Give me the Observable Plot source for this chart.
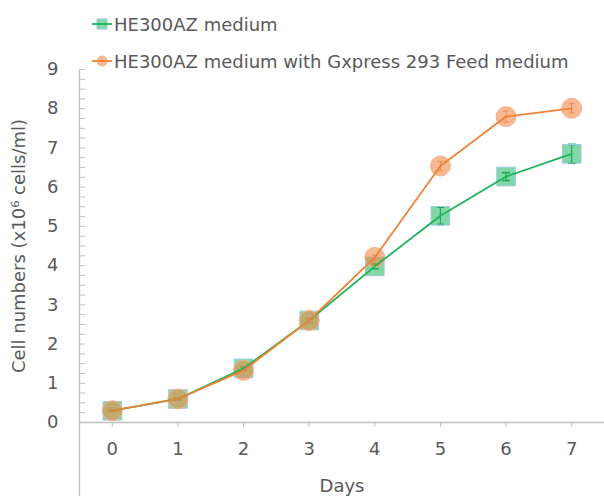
<!DOCTYPE html>
<html>
<head>
<meta charset="utf-8">
<script src="https://cdn.jsdelivr.net/npm/d3@7"></script>
<script src="https://cdn.jsdelivr.net/npm/@observablehq/plot@0.6"></script>
<style>
  body { margin: 0; background: #fff; font-family: "DejaVu Sans", sans-serif; }
  #wrap { position: relative; width: 604px; height: 496px; }
  #legend { position: absolute; left: 0; top: 0; font-size: 18px; color: #595959; }
  .item { position: absolute; display: flex; align-items: center; white-space: nowrap; }
  .item svg { display: block; margin-right: 2px; }
</style>
</head>
<body>
<div id="wrap">
  <div id="chart"></div>
  <div id="legend"></div>
</div>
<script>
const days = [0, 1, 2, 3, 4, 5, 6, 7];
const seriesNames = ["HE300AZ medium", "HE300AZ medium with Gxpress 293 Feed medium"];
const greenValues = [0.30, 0.60, 1.38, 2.60, 3.98, 5.27, 6.27, 6.85];
const greenErrors = [0.02, 0.02, 0.04, 0.05, 0.06, 0.22, 0.10, 0.24];
const orangeValues = [0.30, 0.60, 1.33, 2.60, 4.21, 6.54, 7.80, 8.01];
const orangeErrors = [0.02, 0.02, 0.04, 0.05, 0.06, 0.12, 0.14, 0.12];
const yTicks = [0, 1, 2, 3, 4, 5, 6, 7, 8, 9];
const yMinorTicks = d3.range(0, 9.001, 0.25);
const xTicks = days;

const green = days.map((d, i) => ({day: d, value: greenValues[i], lo: greenValues[i] - greenErrors[i], hi: greenValues[i] + greenErrors[i]}));
const orange = days.map((d, i) => ({day: d, value: orangeValues[i], lo: orangeValues[i] - orangeErrors[i], hi: orangeValues[i] + orangeErrors[i]}));

const textColor = "#595959";
const axisColor = "#bfbfbf";
const greenLine = "#1fb25a";
const greenFill = "#2ebd6b";
const orangeLine = "#ef8236";
const orangeFill = "#f08a4b";

const plot = Plot.plot({
  width: 604,
  height: 496,
  marginLeft: 79,
  marginRight: 0,
  marginTop: 69,
  marginBottom: 74,
  style: {fontFamily: "DejaVu Sans, sans-serif", fontSize: "18px", color: textColor, background: "#fff"},
  x: {domain: [-0.5, 7.5]},
  y: {domain: [0, 9]},
  marks: [
    Plot.axisY({ticks: yMinorTicks, tickSize: 6, dx: 6, text: null, stroke: axisColor, label: null}),
    Plot.axisY({ticks: yTicks, tickSize: 0, tickPadding: 21, fill: textColor, fontSize: 18,
      label: "Cell numbers (x10\u2076 cells/ml)", labelAnchor: "center", labelOffset: 67, labelArrow: "none"}),
    Plot.axisX({ticks: xTicks, tickSize: 5, tickPadding: 15, stroke: axisColor, fill: textColor, fontSize: 18,
      label: "Days", labelAnchor: "center", labelOffset: 69, labelArrow: "none"}),
    Plot.ruleY([0], {stroke: axisColor, strokeWidth: 1.3}),
    Plot.ruleX([-0.5], {y1: 9, y2: -1.9, stroke: axisColor, strokeWidth: 1.3}),
    Plot.link(green, {x1: "day", x2: "day", y1: "lo", y2: "hi", stroke: "#178a45", strokeWidth: 1.3, markerStart: "tick", markerEnd: "tick"}),
    Plot.dot(green, {x: "day", y: "value", symbol: "square", r: 10.5, fill: greenFill, fillOpacity: 0.6, stroke: "#9cc8e4", strokeWidth: 1}),
    Plot.link(orange, {x1: "day", x2: "day", y1: "lo", y2: "hi", stroke: "#e98a50", strokeWidth: 1, markerStart: "tick", markerEnd: "tick"}),
    Plot.dot(orange, {x: "day", y: "value", r: 10, fill: orangeFill, fillOpacity: 0.6, stroke: "#f4b58c", strokeWidth: 1}),
    Plot.line(green, {x: "day", y: "value", stroke: greenLine, strokeWidth: 1.8}),
    Plot.line(orange, {x: "day", y: "value", stroke: orangeLine, strokeWidth: 1.8})
  ]
});
document.getElementById("chart").appendChild(plot);

const legend = document.getElementById("legend");
const items = [
  {name: seriesNames[0], top: 24, line: greenLine, fill: greenFill, stroke: "#9cc8e4", shape: "square"},
  {name: seriesNames[1], top: 61, line: orangeLine, fill: orangeFill, stroke: "#f4b58c", shape: "circle"}
];
for (const it of items) {
  const div = document.createElement("div");
  div.className = "item";
  div.style.left = "92px";
  div.style.top = (it.top - 12) + "px";
  div.style.height = "24px";
  const marker = it.shape === "square"
    ? `<rect x="5" y="7" width="10" height="10" fill="${it.fill}" fill-opacity="0.6" stroke="${it.stroke}"/>`
    : `<circle cx="10" cy="12" r="5" fill="${it.fill}" fill-opacity="0.6" stroke="${it.stroke}"/>`;
  div.innerHTML = `<svg width="20" height="24">${marker}<line x1="0" x2="20" y1="12" y2="12" stroke="${it.line}" stroke-width="1.8"/></svg><span>${it.name}</span>`;
  legend.appendChild(div);
}
</script>
</body>
</html>
